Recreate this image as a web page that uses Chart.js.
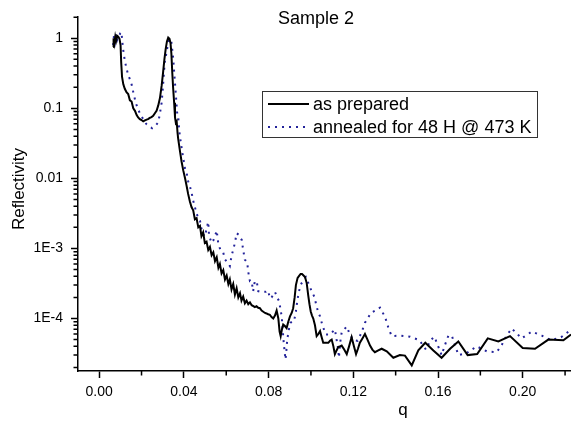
<!DOCTYPE html>
<html>
<head>
<meta charset="utf-8">
<script src="https://cdn.jsdelivr.net/npm/chart.js@4.4.1/dist/chart.umd.min.js"></script>
<style>
  html, body { margin: 0; padding: 0; background: #ffffff; }
  #wrap { width: 571px; height: 422px; }
</style>
</head>
<body>
<div id="wrap"><canvas id="c" width="571" height="422"></canvas></div>
<script>
// ---- data ----
const chartTitle = "Sample 2";
const xTitle = "q";
const yTitle = "Reflectivity";
const seriesNames = ["as prepared", "annealed for 48 H @ 473 K"];

const xTickValues = [0.00, 0.04, 0.08, 0.12, 0.16, 0.20];
const xMinorValues = [0.02, 0.06, 0.10, 0.14, 0.18, 0.22];
const yTickValues = [1e-4, 1e-3, 1e-2, 1e-1, 1];
const yTickLabels = ["1E-4", "1E-3", "0.01", "0.1", "1"];

const qPrepared = [
  0.0066,0.0068,0.0072,0.0076,0.0080,0.0085,0.0090,0.0096,0.0101,0.0104,
  0.0108,0.0114,0.0121,0.0129,0.0137,0.0145,0.0153,0.0161,0.0169,0.0177,
  0.0184,0.0192,0.0200,0.0208,0.0216,0.0224,0.0231,0.0239,0.0247,0.0255,
  0.0263,0.0271,0.0279,0.0287,0.0295,0.0302,0.0308,0.0314,0.0320,0.0326,
  0.0332,0.0337,0.0341,0.0345,0.0349,0.0354,0.0358,0.0362,0.0366,0.0370,
  0.0373,0.0381,0.0389,0.0397,0.0405,0.0413,0.0420,0.0428,0.0436,0.0444,
  0.0452,0.0460,0.0468,0.0476,0.0483,0.0491,0.0499,0.0507,0.0515,0.0523,
  0.0531,0.0539,0.0547,0.0555,0.0563,0.0570,0.0578,0.0586,0.0594,0.0602,
  0.0610,0.0617,0.0625,0.0633,0.0641,0.0649,0.0657,0.0665,0.0672,0.0680,
  0.0688,0.0696,0.0704,0.0712,0.0720,0.0728,0.0735,0.0743,0.0751,0.0759,
  0.0767,0.0775,0.0783,0.0790,0.0798,0.0806,0.0814,0.0822,0.0830,0.0838,
  0.0846,0.0852,0.0857,0.0863,0.0869,0.0877,0.0885,0.0893,0.0901,0.0909,
  0.0916,0.0923,0.0929,0.0937,0.0945,0.0951,0.0958,0.0965,0.0972,0.0980,
  0.0987,0.0993,0.0999,0.1005,0.1011,0.1019,0.1027,0.1035,0.1043,0.1050,
  0.1058,0.1070,0.1082,0.1090,0.1098,0.1106,0.1113,0.1121,0.1129,0.1137,
  0.1145,0.1157,0.1169,0.1180,0.1192,0.1203,0.1213,0.1222,0.1231,0.1243,
  0.1255,0.1267,0.1279,0.1290,0.1302,0.1318,0.1334,0.1358,0.1389,0.1420,
  0.1444,0.1476,0.1507,0.1540,0.1578,0.1617,0.1657,0.1696,0.1740,0.1785,
  0.1835,0.1885,0.1940,0.2000,0.2058,0.2121,0.2192,0.2228
];
const rPrepared = [
  0.75,1.0,0.85,1.05,0.92,1.08,1.05,0.98,0.80,0.45,
  0.28,0.22,0.19,0.17,0.16,0.13,0.125,0.10,0.092,0.08,
  0.074,0.07,0.068,0.065,0.067,0.069,0.07,0.073,0.075,0.078,
  0.085,0.092,0.11,0.14,0.21,0.33,0.5,0.7,0.9,1.02,
  0.98,0.85,0.6,0.33,0.2,0.12,0.075,0.062,0.065,0.045,
  0.037,0.025,0.0174,0.013,0.0102,0.0078,0.006,0.0047,0.0039,0.0035,
  0.0026,0.0027,0.0020,0.0021,0.0015,0.0017,0.0012,0.00125,0.00095,0.00105,
  0.0008,0.00088,0.00066,0.00075,0.00053,0.0006,0.00044,0.00049,0.00036,0.00041,
  0.00031,0.00036,0.00026,0.00031,0.00022,0.00027,0.0002,0.00023,0.00018,0.000205,
  0.000165,0.00018,0.00016,0.00017,0.000155,0.00015,0.000145,0.00015,0.000142,0.00014,
  0.00013,0.000125,0.00012,0.000118,0.000115,0.000113,0.000105,0.0001,0.00011,0.00013,
  0.0001,0.000065,0.000056,0.00007,0.000082,0.000078,0.000073,0.00009,0.000107,0.00012,
  0.00014,0.0002,0.0003,0.00038,0.00041,0.00043,0.00043,0.00041,0.00039,0.00032,
  0.000215,0.00016,0.000126,0.00011,0.0001,0.00008,0.000056,0.00006,0.000066,0.000055,
  0.000045,0.000045,0.000045,0.000048,0.00005,0.00004,0.000031,0.000035,0.000039,0.00004,
  0.000041,0.000036,0.000031,0.00004,0.000054,0.00004,0.000031,0.000037,0.000045,0.000052,
  0.00006,0.00005,0.000041,0.000036,0.000033,0.000035,0.000037,0.000034,0.0000275,0.00003,
  0.0000295,0.0000214,0.000035,0.000045,0.000035,0.0000275,0.000037,0.000047,0.00003,0.000031,
  0.000052,0.000047,0.000056,0.000038,0.000037,0.00005,0.000049,0.000059
];

const qAnnealed = [
  0.0066,0.0070,0.0075,0.0080,0.0085,0.0090,0.0095,0.0100,0.0105,0.0110,
  0.0113,0.0121,0.0129,0.0137,0.0145,0.0153,0.0161,0.0169,0.0177,0.0184,
  0.0192,0.0200,0.0208,0.0216,0.0224,0.0237,0.0250,0.0265,0.0279,0.0287,
  0.0295,0.0302,0.0306,0.0310,0.0318,0.0324,0.0329,0.0334,0.0339,0.0343,
  0.0347,0.0350,0.0354,0.0358,0.0362,0.0368,0.0373,0.0378,0.0384,0.0392,
  0.0397,0.0405,0.0413,0.0420,0.0428,0.0436,0.0444,0.0452,0.0460,0.0468,
  0.0476,0.0483,0.0491,0.0499,0.0507,0.0515,0.0519,0.0523,0.0531,0.0539,
  0.0547,0.0555,0.0562,0.0570,0.0578,0.0586,0.0594,0.0602,0.0610,0.0617,
  0.0625,0.0633,0.0641,0.0649,0.0660,0.0667,0.0673,0.0680,0.0688,0.0699,
  0.0704,0.0712,0.0720,0.0727,0.0735,0.0744,0.0751,0.0763,0.0775,0.0787,
  0.0798,0.0806,0.0814,0.0822,0.0830,0.0841,0.0848,0.0854,0.0862,0.0866,
  0.0872,0.0877,0.0880,0.0884,0.0888,0.0896,0.0904,0.0912,0.0920,0.0929,
  0.0935,0.0943,0.0951,0.0959,0.0968,0.0976,0.0986,0.0995,0.1005,0.1016,
  0.1027,0.1035,0.1043,0.1055,0.1071,0.1090,0.1113,0.1121,0.1129,0.1132,
  0.1138,0.1145,0.1157,0.1169,0.1184,0.1200,0.1220,0.1239,0.1255,0.1268,
  0.1283,0.1305,0.1326,0.1350,0.1365,0.1381,0.1424,0.1468,0.1512,0.1543,
  0.1565,0.1583,0.1601,0.1617,0.1633,0.1649,0.1665,0.1680,0.1696,0.1735,
  0.1783,0.1830,0.1877,0.1901,0.1924,0.1948,0.1995,0.2043,0.2090,0.2134,
  0.2181,0.2228
];
const rAnnealed = [
  0.8,1.1,0.9,1.15,0.95,1.05,1.1,1.18,1.22,0.85,
  0.7,0.48,0.37,0.30,0.26,0.22,0.17,0.134,0.11,0.097,
  0.085,0.077,0.07,0.064,0.059,0.055,0.052,0.056,0.063,0.085,
  0.12,0.22,0.33,0.46,0.63,0.8,0.92,0.97,0.97,0.8,
  0.6,0.5,0.33,0.23,0.157,0.087,0.078,0.048,0.035,0.024,
  0.0195,0.014,0.012,0.0091,0.0078,0.0063,0.0048,0.0039,0.0031,0.0028,
  0.0025,0.0019,0.0016,0.00148,0.0019,0.0024,0.0015,0.0014,0.0012,0.0013,
  0.0015,0.0018,0.0012,0.001,0.0009,0.00087,0.0007,0.00065,0.0006,0.00056,
  0.00078,0.00096,0.0012,0.00165,0.00156,0.0014,0.00133,0.00095,0.00069,0.00063,
  0.00046,0.00034,0.00034,0.000245,0.00034,0.00034,0.000245,0.00024,0.00024,0.00024,
  0.00025,0.000194,0.0002,0.00022,0.00024,0.0002,0.00018,0.000148,0.000107,0.000074,
  0.000043,0.000031,0.000026,0.000035,0.00005,0.00007,0.000087,0.00009,0.000091,0.000126,
  0.000174,0.00024,0.0003,0.00033,0.00037,0.00039,0.00033,0.00028,0.00024,0.000204,
  0.000148,0.00012,0.000107,0.000078,0.000059,0.000059,0.00007,0.00005,0.000036,0.0000275,
  0.000045,0.000063,0.00007,0.000077,0.000059,0.000049,0.000048,0.000063,0.000087,0.0001,
  0.00012,0.00013,0.000143,0.000105,0.000075,0.000056,0.000057,0.000055,0.000049,0.000036,
  0.000049,0.000055,0.00004,0.00003,0.000042,0.000057,0.000057,0.000042,0.00003,0.000032,
  0.00004,0.000034,0.000033,0.000042,0.000057,0.000072,0.000052,0.000065,0.000057,0.000049,
  0.000054,0.000069
];

// ---- styles ----
const FONT = "'Liberation Sans', Arial, sans-serif";
const solidColor = "#000000";
const dotColor = "#23239a";

const toPts = (xs, ys) => xs.map((x, i) => ({ x: x, y: ys[i] }));

const extrasPlugin = {
  id: "extras",
  afterDraw(chart) {
    const ctx = chart.ctx;
    const xs = chart.scales.x, ys = chart.scales.y;
    const area = chart.chartArea;
    ctx.save();
    ctx.strokeStyle = "#000";
    ctx.lineWidth = 1.5;
    // minor ticks on x
    ctx.beginPath();
    xMinorValues.forEach(v => {
      const px = xs.getPixelForValue(v);
      if (px >= area.left - 0.5 && px <= area.right + 0.5) {
        ctx.moveTo(px, area.bottom); ctx.lineTo(px, area.bottom + 4.5);
      }
    });
    // minor ticks on y (log)
    for (let d = -5; d <= 0; d++) {
      for (let k = 2; k <= 9; k++) {
        const v = k * Math.pow(10, d);
        if (v >= ys.min && v <= ys.max) {
          const py = ys.getPixelForValue(v);
          ctx.moveTo(area.left, py); ctx.lineTo(area.left - 4.5, py);
        }
      }
    }
    ctx.stroke();

    // title
    ctx.fillStyle = "#000";
    ctx.font = "18px " + FONT;
    ctx.textAlign = "left";
    ctx.textBaseline = "alphabetic";
    ctx.fillText(chartTitle, 278, 24);

    // axis titles
    ctx.font = "17px " + FONT;
    ctx.textAlign = "center";
    ctx.textBaseline = "middle";
    ctx.fillText(xTitle, 403, 410);
    ctx.save();
    ctx.translate(19, 189);
    ctx.rotate(-Math.PI / 2);
    ctx.fillText(yTitle, 0, 0);
    ctx.restore();

    // legend
    const bx = 262.5, by = 91.5, bw = 275, bh = 46;
    ctx.lineWidth = 1;
    ctx.strokeStyle = "#333";
    ctx.strokeRect(bx, by, bw, bh);
    const ds = chart.data.datasets;
    const rows = [104, 127];
    ds.forEach((d, i) => {
      ctx.save();
      ctx.strokeStyle = d.borderColor;
      ctx.lineWidth = d.borderWidth;
      ctx.setLineDash(d.borderDash || []);
      ctx.beginPath();
      ctx.moveTo(268, rows[i]); ctx.lineTo(309, rows[i]);
      ctx.stroke();
      ctx.restore();
      ctx.fillStyle = "#000";
      ctx.font = "18px " + FONT;
      ctx.textAlign = "left";
      ctx.textBaseline = "middle";
      ctx.fillText(d.label, 313, rows[i] + 1);
    });
    ctx.restore();
  }
};

new Chart(document.getElementById("c"), {
  type: "line",
  data: {
    datasets: [
      {
        label: seriesNames[0],
        data: toPts(qPrepared, rPrepared),
        borderColor: solidColor,
        borderWidth: 2,
        pointRadius: 0,
        fill: false,
        tension: 0
      },
      {
        label: seriesNames[1],
        data: toPts(qAnnealed, rAnnealed),
        borderColor: dotColor,
        borderWidth: 2,
        borderDash: [2, 5],
        borderCapStyle: "butt",
        pointRadius: 0,
        fill: false,
        tension: 0
      }
    ]
  },
  options: {
    responsive: false,
    animation: false,
    devicePixelRatio: 1,
    layout: { padding: { left: 0, top: 8, right: 0, bottom: 0 } },
    plugins: {
      legend: { display: false },
      title: { display: false },
      tooltip: { enabled: false }
    },
    scales: {
      x: {
        type: "linear",
        min: -0.01,
        max: 0.2228,
        afterBuildTicks: s => { s.ticks = xTickValues.map(v => ({ value: v })); },
        afterFit: s => { s.height = 51; },
        ticks: {
          callback: v => Number(v).toFixed(2),
          font: { family: FONT, size: 14 },
          color: "#000",
          padding: 6,
          maxRotation: 0,
          autoSkip: false
        },
        grid: { display: true, drawOnChartArea: false, tickLength: 7, tickWidth: 1.5, tickColor: "#000" },
        border: { display: true, color: "#000", width: 1.5 }
      },
      y: {
        type: "logarithmic",
        min: 1.78e-5,
        max: 2.05,
        afterBuildTicks: s => { s.ticks = yTickValues.map(v => ({ value: v })); },
        afterFit: s => { s.width = 78; },
        ticks: {
          callback: (v) => {
            const i = yTickValues.findIndex(t => Math.abs(Math.log10(t) - Math.log10(v)) < 1e-6);
            return i >= 0 ? yTickLabels[i] : "";
          },
          font: { family: FONT, size: 14 },
          color: "#000",
          padding: 8,
          autoSkip: false
        },
        grid: { display: true, drawOnChartArea: false, tickLength: 7, tickWidth: 1.5, tickColor: "#000" },
        border: { display: true, color: "#000", width: 1.5 }
      }
    }
  },
  plugins: [extrasPlugin]
});
</script>
</body>
</html>
